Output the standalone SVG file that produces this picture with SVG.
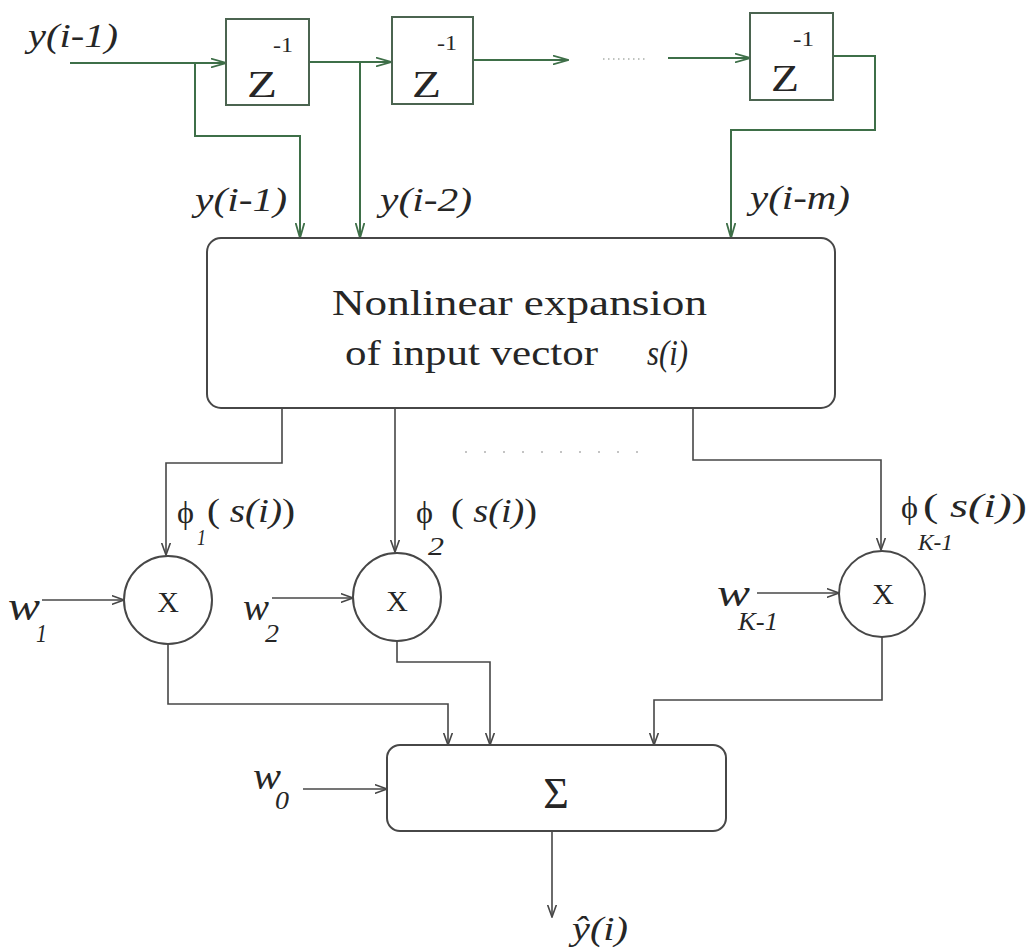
<svg xmlns="http://www.w3.org/2000/svg" width="1029" height="951" viewBox="0 0 1029 951">
<style>
.t{font-family:"Liberation Serif","Times New Roman",serif;fill:#262626}
.i{font-style:italic}
.g{fill:none;stroke:#3e6f48;stroke-width:2}
.k{fill:none;stroke:#474747;stroke-width:1.6}
.zb{fill:#fff;stroke:#4b6450;stroke-width:2}
.nb{fill:#fff;stroke:#474747;stroke-width:2}
.ag{marker-end:url(#ag)}
.ak{marker-end:url(#ak)}
</style>
<defs>
<marker id="ag" markerUnits="userSpaceOnUse" markerWidth="16" markerHeight="10" viewBox="0 0 16 10" refX="15.5" refY="5" orient="auto"><path d="M0,0.5 L15.5,5 L0,9.5" fill="none" stroke="#3e6f48" stroke-width="1.8"/></marker>
<marker id="ak" markerUnits="userSpaceOnUse" markerWidth="13" markerHeight="10" viewBox="0 0 13 10" refX="12.5" refY="5" orient="auto"><path d="M0,0.5 L12.5,5 L0,9.5" fill="none" stroke="#474747" stroke-width="1.6"/></marker>
</defs>
<rect width="1029" height="951" fill="#fff"/>

<g id="connectors">
<path class="g ag" d="M70,63 H226"/>
<path class="g ag" d="M309,62 H391"/>
<path class="g ag" d="M473,60 H568"/>
<path class="g ag" d="M668,58 H750"/>
<path d="M603,59 H646" fill="none" stroke="#aab0aa" stroke-width="1.5" stroke-dasharray="1.5 3.5"/>
<path class="g ag" d="M195,63 V136 H300 V238"/>
<path class="g ag" d="M360,62 V238"/>
<path class="g ag" d="M833,56 H875 V130 H731 V238"/>

<path class="k ak" d="M282,408 V463 H166 V555"/>
<path class="k ak" d="M395,408 V552"/>
<path class="k ak" d="M693,408 V460 H881 V550"/>
<path d="M465,452 H640" fill="none" stroke="#c4c4c4" stroke-width="2" stroke-dasharray="2 17"/>
<path class="k ak" d="M42,600 H124"/>
<path class="k ak" d="M272,598 H353"/>
<path class="k ak" d="M757,593 H839"/>
<path class="k ak" d="M168,644 V704 H448 V745"/>
<path class="k ak" d="M397,641 V662 H490 V745"/>
<path class="k ak" d="M882,637 V700 H654 V745"/>
<path class="k ak" d="M303,789 H387"/>
<path class="k ak" d="M552,831 V917"/>
</g>

<g id="input-label">
<text class="t i" x="28" y="47" font-size="34" textLength="90" lengthAdjust="spacingAndGlyphs">y(i-1)</text>
</g>

<g id="delay1">
<rect class="zb" x="226" y="19" width="83" height="86"/>
<text class="t" x="247" y="97" font-size="37" textLength="30" lengthAdjust="spacingAndGlyphs">Z</text>
<text class="t" x="273" y="52" font-size="22" textLength="20" lengthAdjust="spacingAndGlyphs">-1</text>
</g>
<g id="delay2">
<rect class="zb" x="392" y="17" width="81" height="87"/>
<text class="t" x="412" y="97" font-size="37" textLength="29" lengthAdjust="spacingAndGlyphs">Z</text>
<text class="t" x="437" y="50" font-size="22" textLength="20" lengthAdjust="spacingAndGlyphs">-1</text>
</g>
<g id="delay3">
<rect class="zb" x="750" y="13" width="83" height="87"/>
<text class="t" x="771" y="91" font-size="37" textLength="28" lengthAdjust="spacingAndGlyphs">Z</text>
<text class="t" x="793" y="46" font-size="22" textLength="21" lengthAdjust="spacingAndGlyphs">-1</text>
</g>

<g id="tap-labels">
<text class="t i" x="195" y="211" font-size="34" textLength="92" lengthAdjust="spacingAndGlyphs">y(i-1)</text>
<text class="t i" x="380" y="211" font-size="34" textLength="92" lengthAdjust="spacingAndGlyphs">y(i-2)</text>
<text class="t i" x="750" y="209" font-size="34" textLength="100" lengthAdjust="spacingAndGlyphs">y(i-m)</text>
</g>

<g id="expansion">
<rect class="nb" x="207" y="238" width="628" height="170" rx="14"/>
<text class="t" x="332" y="315" font-size="36" textLength="375" lengthAdjust="spacingAndGlyphs">Nonlinear expansion</text>
<text class="t" x="345" y="365" font-size="36" textLength="253" lengthAdjust="spacingAndGlyphs">of input vector</text>
<text class="t i" x="647" y="365" font-size="36" textLength="41" lengthAdjust="spacingAndGlyphs">s(i)</text>
</g>

<g id="phi-labels">
<text class="t" x="177" y="523" font-size="31" textLength="17" lengthAdjust="spacingAndGlyphs">ϕ</text>
<text class="t i" x="197" y="545" font-size="24" textLength="9" lengthAdjust="spacingAndGlyphs">1</text>
<text class="t" x="207" y="522" font-size="33" textLength="88" lengthAdjust="spacingAndGlyphs">( <tspan class="i">s(i)</tspan>)</text>
<text class="t" x="416" y="523" font-size="31" textLength="17" lengthAdjust="spacingAndGlyphs">ϕ</text>
<text class="t i" x="428" y="555" font-size="26" textLength="16" lengthAdjust="spacingAndGlyphs">2</text>
<text class="t" x="451" y="522" font-size="33" textLength="86" lengthAdjust="spacingAndGlyphs">( <tspan class="i">s(i)</tspan>)</text>
<text class="t" x="901" y="518" font-size="31" textLength="17" lengthAdjust="spacingAndGlyphs">ϕ</text>
<text class="t i" x="918" y="550" font-size="24" textLength="35" lengthAdjust="spacingAndGlyphs">K-1</text>
<text class="t" x="923" y="517" font-size="33" textLength="104" lengthAdjust="spacingAndGlyphs">(  <tspan class="i">s(i)</tspan>)</text>
</g>

<g id="mult1">
<circle class="nb" cx="168" cy="600" r="44"/>
<text class="t" x="168" y="612" font-size="30" text-anchor="middle">X</text>
<text class="t i" x="8" y="620" font-size="40" textLength="32" lengthAdjust="spacingAndGlyphs">w</text>
<text class="t i" x="36" y="642" font-size="26" textLength="11" lengthAdjust="spacingAndGlyphs">1</text>
</g>
<g id="mult2">
<circle class="nb" cx="397" cy="597" r="44"/>
<text class="t" x="397" y="611" font-size="30" text-anchor="middle">X</text>
<text class="t i" x="243" y="620" font-size="38" textLength="26" lengthAdjust="spacingAndGlyphs">w</text>
<text class="t i" x="265" y="642" font-size="26" textLength="14" lengthAdjust="spacingAndGlyphs">2</text>
</g>
<g id="mult3">
<circle class="nb" cx="882" cy="594" r="43"/>
<text class="t" x="883" y="604" font-size="30" text-anchor="middle">X</text>
<text class="t i" x="717" y="606" font-size="38" textLength="33" lengthAdjust="spacingAndGlyphs">w</text>
<text class="t i" x="738" y="630" font-size="26" textLength="40" lengthAdjust="spacingAndGlyphs">K-1</text>
</g>

<g id="sum">
<rect class="nb" x="387" y="745" width="339" height="86" rx="13"/>
<text class="t" x="556" y="808" font-size="44" text-anchor="middle">Σ</text>
<text class="t i" x="253" y="789" font-size="38" textLength="28" lengthAdjust="spacingAndGlyphs">w</text>
<text class="t i" x="275" y="809" font-size="26" textLength="14" lengthAdjust="spacingAndGlyphs">0</text>
</g>

<g id="output">
<text class="t i" x="572" y="940" font-size="34" textLength="56" lengthAdjust="spacingAndGlyphs">ŷ(i)</text>
</g>
</svg>
